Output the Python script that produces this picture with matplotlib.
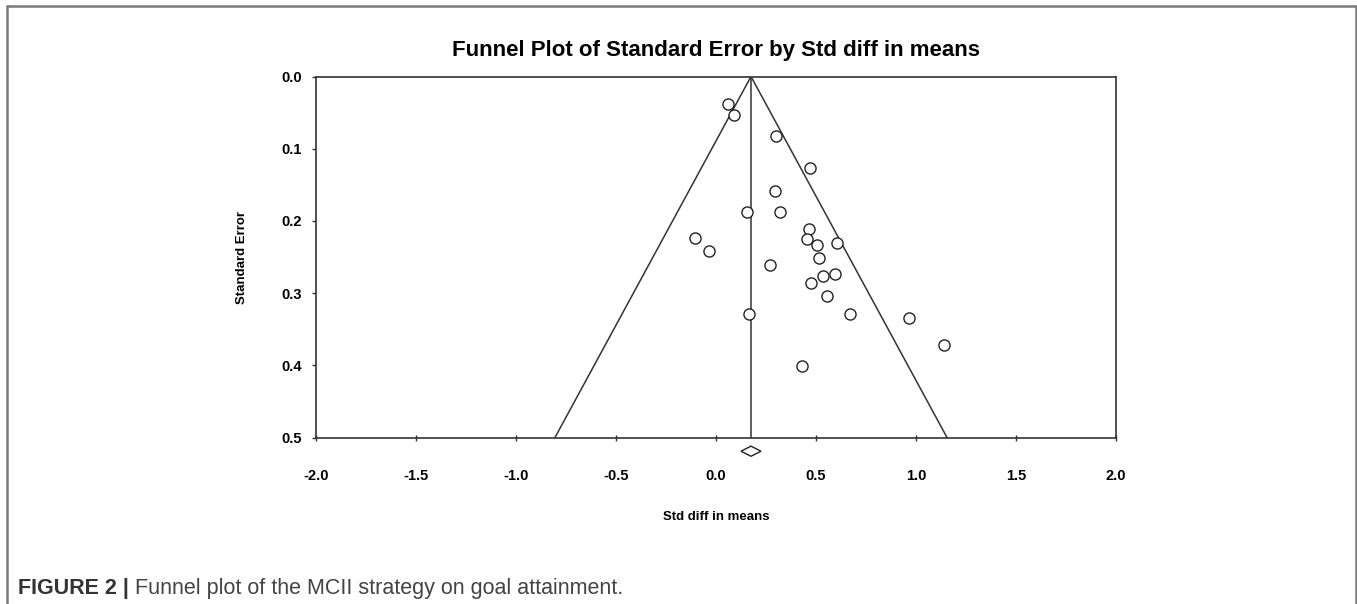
import matplotlib.pyplot as plt
from matplotlib.patches import Polygon, Rectangle

# Study estimates
std_diff = [0.058, 0.090, 0.302, 0.472, 0.294, 0.157, 0.322, -0.107, -0.035,
            0.467, 0.455, 0.505, 0.607, 0.515, 0.269, 0.537, 0.594, 0.474,
            0.555, 0.165, 0.672, 0.967, 1.140, 0.432]
std_err = [0.038, 0.053, 0.083, 0.127, 0.158, 0.187, 0.187, 0.224, 0.241,
           0.211, 0.225, 0.233, 0.230, 0.251, 0.261, 0.276, 0.273, 0.286,
           0.304, 0.329, 0.329, 0.334, 0.372, 0.401]

# Pooled effect and its confidence interval (diamond)
pooled = 0.175
pooled_ci = (0.125, 0.225)
se_max = 0.5

x_ticks = [-2.0, -1.5, -1.0, -0.5, 0.0, 0.5, 1.0, 1.5, 2.0]
y_ticks = [0.0, 0.1, 0.2, 0.3, 0.4, 0.5]

plt.rcParams["font.family"] = ["Liberation Sans", "DejaVu Sans"]

W, H = 1357, 604
fig = plt.figure(figsize=(W / 100, H / 100), dpi=100)

# Outer frame around the whole figure panel
fig.patches.append(Rectangle((7 / W, -0.02), (1356 - 7) / W, 1 - 6 / H + 0.02,
                             transform=fig.transFigure, fill=False,
                             edgecolor="#7a7a7a", linewidth=1.8))

ax = fig.add_axes([316 / W, 1 - 437.5 / H, 800 / W, 361 / H])

# Funnel and pooled line
ax.plot([pooled, pooled - 1.96 * se_max], [0, se_max], color="#333333", lw=1.1)
ax.plot([pooled, pooled + 1.96 * se_max], [0, se_max], color="#333333", lw=1.1)
ax.plot([pooled, pooled], [0, se_max], color="#333333", lw=1.1)

ax.plot(std_diff, std_err, linestyle="none", marker="o", markersize=8,
        markerfacecolor="white", markeredgecolor="#222222", markeredgewidth=1.0)

# Diamond for pooled estimate below the axis
dy = 0.007
diamond = Polygon([[pooled_ci[0], 0.519], [pooled, 0.519 - dy],
                   [pooled_ci[1], 0.519], [pooled, 0.519 + dy]],
                  closed=True, fill=False, edgecolor="#222222", lw=1.0,
                  clip_on=False)
ax.add_patch(diamond)

ax.set_xlim(-2.0, 2.0)
ax.set_ylim(0.5, 0.0)
ax.set_xticks(x_ticks)
ax.set_yticks(y_ticks)
ax.set_xticklabels([f"{v:.1f}" for v in x_ticks], fontweight="bold", fontsize=10.5)
ax.set_yticklabels([f"{v:.1f}" for v in y_ticks], fontweight="bold", fontsize=10.5)
ax.tick_params(axis="x", direction="inout", length=5, width=1, pad=20, color="#333333")
ax.tick_params(axis="y", direction="out", length=3, width=1, pad=7, color="#333333")
for s in ax.spines.values():
    s.set_color("#333333")
    s.set_linewidth(1.2)

ax.set_xlabel("Std diff in means", fontweight="bold", fontsize=9.5, labelpad=20)
ax.set_ylabel("Standard Error", fontweight="bold", fontsize=9.5, labelpad=24)
ax.set_title("Funnel Plot of Standard Error by Std diff in means",
             fontweight="bold", fontsize=16, pad=15)

# Caption: bold label followed by regular text
t1 = fig.text(18 / W, 1 - 594 / H, "FIGURE 2 |", fontsize=15.5,
              fontweight="bold", color="#333333", va="baseline")
ax.annotate(" Funnel plot of the MCII strategy on goal attainment.",
            xy=(1, 0), xycoords=t1, va="bottom", fontsize=15.5,
            color="#444444")

fig.savefig("out.png", dpi=100)
